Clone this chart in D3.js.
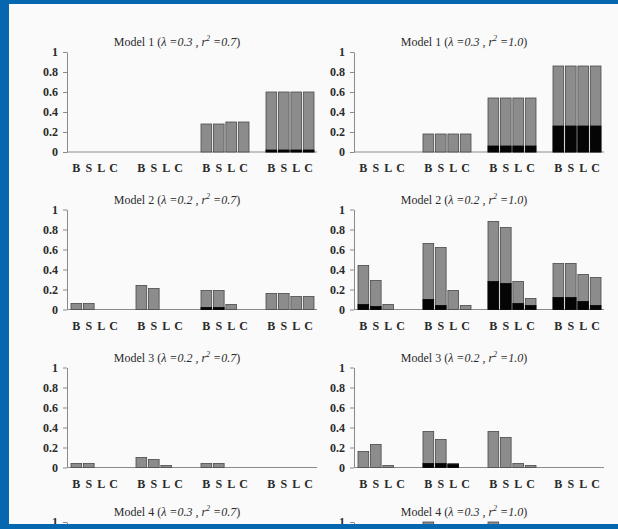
<!DOCTYPE html>
<html lang="en">
<head>
  <meta charset="UTF-8">
  <title>Model bars</title>
  <script src="https://d3js.org/d3.v7.min.js"></script>
  <style>
    body { margin: 0; background: #0766b0; }
    svg { display: block; }
    .tick text { font-family: "Liberation Serif", "Times New Roman", serif; font-size: 12px; font-weight: bold; fill: #2a2a2a; }
    .tick line, .domain { stroke: #8a8a8a; }
    .cat { font-family: "Liberation Serif", "Times New Roman", serif; font-size: 12px; font-weight: bold; fill: #2a2a2a; }
    .title { font-family: "Liberation Serif", "Times New Roman", serif; font-size: 12px; fill: #2a2a2a; }
    .bar { fill: #8c8c8c; stroke: #4a4a4a; stroke-width: 0.8px; }
    .black { fill: #050505; stroke: #050505; stroke-width: 0.8px; }
  </style>
</head>
<body>
  <div id="chart"></div>
  <script>
    // categories in each group and the group ids
    const categories = ["B", "S", "L", "C"];
    const groups = [0, 1, 2, 3];
    const yTicks = [0, 0.2, 0.4, 0.6, 0.8, 1];

    // panel titles: model number, lambda, r^2
    const models = [1, 1, 2, 2, 3, 3, 4, 4];
    const lambdas = ["0.3", "0.3", "0.2", "0.2", "0.2", "0.2", "0.3", "0.3"];
    const rsq = ["0.7", "1.0", "0.7", "1.0", "0.7", "1.0", "0.7", "1.0"];

    // bar totals, 4 groups x B S L C, one list per panel
    const m1a = [0, 0, 0, 0, 0, 0, 0, 0, 0.28, 0.28, 0.30, 0.30, 0.60, 0.60, 0.60, 0.60];
    const m1b = [0, 0, 0, 0, 0.18, 0.18, 0.18, 0.18, 0.54, 0.54, 0.54, 0.54, 0.86, 0.86, 0.86, 0.86];
    const m2a = [0.06, 0.06, 0, 0, 0.24, 0.21, 0, 0, 0.19, 0.19, 0.05, 0, 0.16, 0.16, 0.13, 0.13];
    const m2b = [0.44, 0.29, 0.05, 0, 0.66, 0.62, 0.19, 0.04, 0.88, 0.82, 0.28, 0.11, 0.46, 0.46, 0.35, 0.32];
    const m3a = [0.04, 0.04, 0, 0, 0.10, 0.08, 0.02, 0, 0.04, 0.04, 0, 0, 0, 0, 0, 0];
    const m3b = [0.16, 0.23, 0.02, 0, 0.36, 0.28, 0.04, 0, 0.36, 0.30, 0.04, 0.02, 0, 0, 0, 0];
    const m4a = [0, 0, 0, 0, 0, 0, 0, 0, 0, 0, 0, 0, 0, 0, 0, 0];
    const m4b = [0, 0, 0, 0, 1.0, 0, 0, 0, 1.0, 0, 0, 0, 0, 0, 0, 0];

    // black (lower) part of each bar
    const k1a = [0, 0, 0, 0, 0, 0, 0, 0, 0, 0, 0, 0, 0.02, 0.02, 0.02, 0.02];
    const k1b = [0, 0, 0, 0, 0, 0, 0, 0, 0.06, 0.06, 0.06, 0.06, 0.26, 0.26, 0.26, 0.26];
    const k2a = [0, 0, 0, 0, 0, 0, 0, 0, 0.02, 0.02, 0, 0, 0, 0, 0, 0];
    const k2b = [0.05, 0.03, 0, 0, 0.10, 0.04, 0, 0, 0.28, 0.26, 0.06, 0.04, 0.12, 0.12, 0.08, 0.04];
    const k3a = [0, 0, 0, 0, 0, 0, 0, 0, 0, 0, 0, 0, 0, 0, 0, 0];
    const k3b = [0, 0, 0, 0, 0.04, 0.04, 0.03, 0, 0, 0, 0, 0, 0, 0, 0, 0];
    const k4a = [0, 0, 0, 0, 0, 0, 0, 0, 0, 0, 0, 0, 0, 0, 0, 0];
    const k4b = [0, 0, 0, 0, 0, 0, 0, 0, 0, 0, 0, 0, 0, 0, 0, 0];

    const totals = [m1a, m1b, m2a, m2b, m3a, m3b, m4a, m4b];
    const blacks = [k1a, k1b, k2a, k2b, k3a, k3b, k4a, k4b];

    const width = 618;
    const height = 529;
    const frame = { left: 9, top: 4, right: 618, bottom: 524 };
    const colX = [67, 354];        // y axis position of each column
    const rowTop = [52, 209.5, 367.5, 522]; // y of tick "1" per row
    const plotH = 100;
    const axisLen = 250;

    const svg = d3.select("#chart").append("svg")
      .attr("width", width)
      .attr("height", height);

    svg.append("defs").append("clipPath").attr("id", "frame")
      .append("rect")
      .attr("x", frame.left).attr("y", frame.top)
      .attr("width", frame.right - frame.left)
      .attr("height", frame.bottom - frame.top);

    svg.append("rect")
      .attr("x", frame.left).attr("y", frame.top)
      .attr("width", frame.right - frame.left)
      .attr("height", frame.bottom - frame.top)
      .attr("fill", "#fafafa");

    const root = svg.append("g").attr("clip-path", "url(#frame)");

    totals.forEach((vals, p) => {
      const col = p % 2, row = Math.floor(p / 2);
      const x0 = colX[col];
      const g = root.append("g");

      const y = d3.scaleLinear().domain([0, 1]).range([rowTop[row] + plotH, rowTop[row]]);
      const xg = d3.scaleBand().domain(groups)
        .range([x0 + 3.5, x0 + 3.5 + 65 * 4 - 16])
        .paddingInner(16 / 65).paddingOuter(0);
      const xc = d3.scaleBand().domain(categories)
        .range([0, xg.bandwidth()])
        .paddingInner(0.14).paddingOuter(0.04);

      // title
      const t = g.append("text").attr("class", "title")
        .attr("x", x0 + 110).attr("y", rowTop[row] - 6)
        .attr("text-anchor", "middle");
      t.append("tspan").text(`Model ${models[p]} (`);
      t.append("tspan").attr("font-style", "italic").text(`λ =${lambdas[p]} , r`);
      t.append("tspan").attr("font-style", "italic").attr("font-size", "8px").attr("dy", -5).text("2");
      t.append("tspan").attr("font-style", "italic").attr("dy", 5).text(` =${rsq[p]}`);
      t.append("tspan").text(")");

      // y axis (only ticks that fall inside the picture)
      const visTicks = yTicks.filter(v => y(v) < height + 2);
      g.append("g")
        .attr("transform", `translate(${x0},0)`)
        .call(d3.axisLeft(y).tickValues(visTicks)
          .tickFormat(d => (d === 0 || d === 1) ? String(d) : d3.format(".1f")(d))
          .tickSize(4).tickSizeOuter(0).tickPadding(5));

      // x axis line
      g.append("line")
        .attr("x1", x0).attr("x2", x0 + axisLen)
        .attr("y1", y(0)).attr("y2", y(0))
        .attr("stroke", "#8a8a8a");

      const data = vals.map((v, i) => ({
        grp: groups[Math.floor(i / 4)],
        cat: categories[i % 4],
        total: v,
        black: blacks[p][i]
      }));

      g.selectAll(".bar").data(data.filter(d => d.total > 0)).enter()
        .append("rect").attr("class", "bar")
        .attr("x", d => xg(d.grp) + xc(d.cat))
        .attr("width", xc.bandwidth())
        .attr("y", d => y(d.total))
        .attr("height", d => y(0) - y(d.total));

      g.selectAll(".black").data(data.filter(d => d.black > 0)).enter()
        .append("rect").attr("class", "black")
        .attr("x", d => xg(d.grp) + xc(d.cat))
        .attr("width", xc.bandwidth())
        .attr("y", d => y(d.black))
        .attr("height", d => y(0) - y(d.black));

      // category labels (skipped when below the picture)
      if (y(0) + 20 < height) {
        g.selectAll(".cat").data(data).enter()
          .append("text").attr("class", "cat")
          .attr("x", d => xg(d.grp) + xc(d.cat) + xc.bandwidth() / 2)
          .attr("y", y(0) + 20)
          .attr("text-anchor", "middle")
          .text(d => d.cat);
      }
    });
  </script>
</body>
</html>
